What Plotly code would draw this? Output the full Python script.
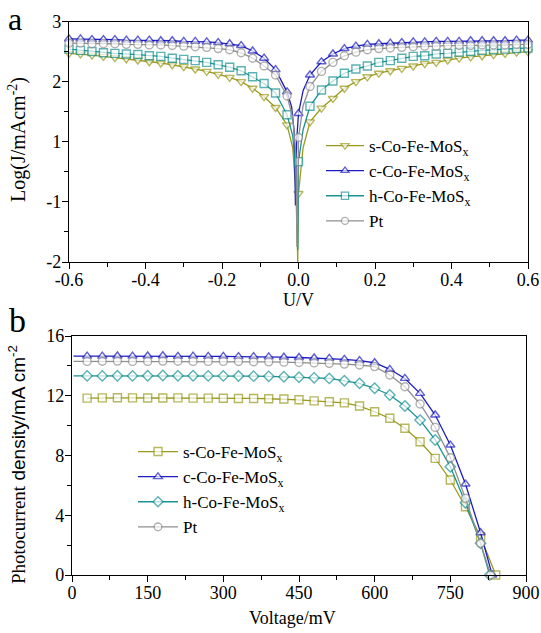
import plotly.graph_objects as go

# ---------------- Panel a data (Tafel-type curves) ----------------
u_volts = [-0.6, -0.57, -0.54, -0.51, -0.48, -0.45, -0.42, -0.39, -0.36, -0.33,
           -0.3, -0.27, -0.24, -0.21, -0.18, -0.15, -0.12, -0.09, -0.06, -0.03,
           0.0,
           0.03, 0.06, 0.09, 0.12, 0.15, 0.18, 0.21, 0.24, 0.27, 0.3,
           0.33, 0.36, 0.39, 0.42, 0.45, 0.48, 0.51, 0.54, 0.57, 0.6]

# values are in the (evenly spaced) axis position units; tick labels below
a_s = [2.47, 2.46, 2.44, 2.42, 2.40, 2.38, 2.36, 2.33, 2.31, 2.28,
       2.25, 2.21, 2.17, 2.12, 2.07, 2.00, 1.89, 1.75, 1.57, 1.28,
       0.14,
       1.33, 1.56, 1.72, 1.89, 2.00, 2.08, 2.14, 2.18, 2.22, 2.26,
       2.30, 2.32, 2.36, 2.39, 2.41, 2.43, 2.45, 2.47, 2.49, 2.50]
a_c = [2.71, 2.71, 2.70, 2.70, 2.70, 2.69, 2.69, 2.69, 2.68, 2.68,
       2.67, 2.67, 2.66, 2.65, 2.63, 2.60, 2.51, 2.39, 2.20, 1.83,
       1.47,
       2.11, 2.33, 2.46, 2.55, 2.59, 2.62, 2.63, 2.64, 2.65, 2.66,
       2.66, 2.67, 2.67, 2.67, 2.68, 2.68, 2.68, 2.68, 2.69, 2.69]
a_h = [2.54, 2.52, 2.50, 2.48, 2.47, 2.46, 2.45, 2.43, 2.42, 2.39,
       2.37, 2.35, 2.32, 2.28, 2.24, 2.18, 2.08, 1.97, 1.81, 1.45,
       0.67,
       1.59, 1.86, 2.01, 2.14, 2.21, 2.26, 2.32, 2.35, 2.39, 2.42,
       2.43, 2.46, 2.47, 2.49, 2.50, 2.52, 2.53, 2.54, 2.55, 2.56]
a_pt = [2.64, 2.64, 2.63, 2.63, 2.63, 2.62, 2.62, 2.61, 2.61, 2.60,
        2.59, 2.58, 2.57, 2.55, 2.53, 2.48, 2.39, 2.26, 2.11, 1.76,
        1.07,
        1.92, 2.17, 2.32, 2.43, 2.49, 2.53, 2.55, 2.56, 2.57, 2.58,
        2.59, 2.59, 2.60, 2.60, 2.60, 2.61, 2.61, 2.61, 2.62, 2.62]

# extra (unmarked) points describing the sharp dip near 0 V
dip_x_s = [-0.015, -0.006, -0.002, 0.012]
dip_y_s = [0.90, 0.10, -1.00, 0.90]
dip_x_c = [-0.018, -0.011, -0.008, -0.005, 0.012]
dip_y_c = [1.58, 1.15, -0.06, 1.00, 1.85]
dip_x_h = [-0.015, -0.006, -0.002, 0.012]
dip_y_h = [1.10, 0.40, -0.80, 1.20]
dip_x_pt = [-0.015, -0.007, -0.004, -0.002, 0.012]
dip_y_pt = [1.40, 0.80, -0.75, 0.50, 1.60]

a_xticks = [-0.6, -0.4, -0.2, 0.0, 0.2, 0.4, 0.6]
a_xticktext = ["-0.6", "-0.4", "-0.2", "0.0", "0.2", "0.4", "0.6"]
a_yticks = [3, 2, 1, 0, -1]
a_yticktext = ["3", "2", "1", "-1", "-2"]

# ---------------- Panel b data (J-V curves) ----------------
v_mV = [30, 60, 90, 120, 150, 180, 210, 240, 270, 300,
        330, 360, 390, 420, 450, 480, 510, 540, 570, 600,
        630, 660, 690, 720, 750, 780, 810]
b_s = [11.84, 11.86, 11.87, 11.86, 11.85, 11.85, 11.86, 11.84, 11.84, 11.83,
       11.82, 11.82, 11.80, 11.78, 11.73, 11.66, 11.60, 11.52, 11.31, 10.93,
       10.49, 9.82, 8.92, 7.81, 6.36, 4.57, 2.56]
b_c = [14.65, 14.65, 14.66, 14.65, 14.66, 14.68, 14.64, 14.65, 14.64, 14.64,
       14.62, 14.62, 14.60, 14.58, 14.56, 14.53, 14.50, 14.44, 14.35, 14.21,
       13.77, 13.16, 12.16, 10.71, 8.70, 6.09, 2.83]
b_h = [13.33, 13.33, 13.34, 13.33, 13.34, 13.36, 13.34, 13.34, 13.33, 13.33,
       13.32, 13.31, 13.30, 13.27, 13.24, 13.20, 13.16, 13.00, 12.83, 12.50,
       12.05, 11.31, 10.37, 9.04, 7.25, 4.84, 2.12]
b_pt = [14.30, 14.31, 14.32, 14.30, 14.30, 14.32, 14.31, 14.30, 14.30, 14.30,
        14.29, 14.28, 14.27, 14.25, 14.23, 14.20, 14.17, 14.12, 14.06, 13.95,
        13.39, 12.60, 11.45, 9.88, 7.85, 5.13, 2.12]
# unmarked start of the recorded curves (mV, mA cm-2); None = starts at first marker
start_c, start_h, start_pt = (3, 14.65), (3, 13.33), (3, 14.30)
voc_s, voc_c, voc_h, voc_pt = 840, 833, 828, 830

names = ["s-Co-Fe-MoS<sub>x</sub>", "c-Co-Fe-MoS<sub>x</sub>",
         "h-Co-Fe-MoS<sub>x</sub>", "Pt"]
colors = ["#9a9a1e", "#1c1cc0", "#1a9292", "#8f8f8f"]

SERIF = "Liberation Serif"
MS = 8

fig = go.Figure()


def merged(xm, ym, xd, yd):
    pts = [(x, y, MS) for x, y in zip(xm, ym)] + [(x, y, 0) for x, y in zip(xd, yd)]
    pts.sort(key=lambda p: p[0])
    return [p[0] for p in pts], [p[1] for p in pts], [p[2] for p in pts]


a_sets = [(a_s, dip_x_s, dip_y_s, "triangle-down"),
          (a_c, dip_x_c, dip_y_c, "triangle-up"),
          (a_h, dip_x_h, dip_y_h, "square"),
          (a_pt, dip_x_pt, dip_y_pt, "circle")]
for i, (ys, dx, dy, sym) in enumerate(a_sets):
    xx, yy, ss = merged(u_volts, ys, dx, dy)
    fig.add_trace(go.Scatter(
        x=xx, y=yy, mode="lines+markers", name=names[i],
        line=dict(color=colors[i], width=1.3),
        marker=dict(symbol=sym, size=ss, color="white",
                    line=dict(color=colors[i], width=[1.4 if s else 0 for s in ss])),
        xaxis="x", yaxis="y", legend="legend", cliponaxis=False,
    ))

b_sets = [(b_s, None, voc_s, "square"), (b_c, start_c, voc_c, "triangle-up"),
          (b_h, start_h, voc_h, "diamond"), (b_pt, start_pt, voc_pt, "circle")]
for i, (ys, st, voc, sym) in enumerate(b_sets):
    dx = [st[0]] if st else []
    dy = [st[1]] if st else []
    xx, yy, ss = merged(v_mV + [voc], ys + [0.0], dx, dy)
    fig.add_trace(go.Scatter(
        x=xx, y=yy, mode="lines+markers", name=names[i],
        line=dict(color=colors[i], width=1.3),
        marker=dict(symbol=sym, size=ss, color="white",
                    line=dict(color=colors[i], width=[1.4 if s else 0 for s in ss])),
        xaxis="x2", yaxis="y2", legend="legend2", cliponaxis=False,
    ))

W, H = 541, 633


def px_x(p):
    return p / W


def px_y(p):
    return 1 - p / H


axis_common = dict(showline=True, linecolor="black", linewidth=1.3, mirror=True,
                   ticks="outside", ticklen=6, tickwidth=1.2, tickcolor="black",
                   showgrid=False, zeroline=False, automargin=False,
                   tickfont=dict(family=SERIF, size=18, color="black"))

fig.update_layout(
    template="none",
    font=dict(family=SERIF, size=18, color="black"),
    width=W, height=H,
    margin=dict(l=0, r=0, t=0, b=0, autoexpand=False),
    paper_bgcolor="white", plot_bgcolor="white",
    xaxis=dict(domain=[px_x(69), px_x(528)], range=[-0.6, 0.6],
               tickvals=a_xticks, ticktext=a_xticktext, anchor="y",
               ticklabelstandoff=-5,
               minor=dict(dtick=0.1, tick0=0, ticklen=3.5, tickcolor="black", ticks="outside"),
               **axis_common),
    yaxis=dict(domain=[px_y(262), px_y(21.5)], range=[-1, 3],
               tickvals=a_yticks, ticktext=a_yticktext, anchor="x",
               ticklabelstandoff=-3,
               minor=dict(dtick=0.5, tick0=0, ticklen=3.5, tickcolor="black", ticks="outside"),
               **axis_common),
    xaxis2=dict(domain=[px_x(72), px_x(526)], range=[0, 900], dtick=150, tick0=0,
                anchor="y2", ticklabelstandoff=-5,
                minor=dict(dtick=75, tick0=0, ticklen=3.5, tickcolor="black", ticks="outside"),
                **axis_common),
    yaxis2=dict(domain=[px_y(575), px_y(336)], range=[0, 16], dtick=4, tick0=0,
                anchor="x2", ticklabelstandoff=-3,
                minor=dict(dtick=2, tick0=0, ticklen=3.5, tickcolor="black", ticks="outside"),
                **axis_common),
    legend=dict(x=px_x(321), y=px_y(128), xanchor="left", yanchor="top",
                bgcolor="rgba(0,0,0,0)", borderwidth=0, itemwidth=38,
                font=dict(family=SERIF, size=17, color="black"), tracegroupgap=0),
    legend2=dict(x=px_x(133), y=px_y(434), xanchor="left", yanchor="top",
                 bgcolor="rgba(0,0,0,0)", borderwidth=0, itemwidth=40,
                 font=dict(family=SERIF, size=17, color="black"), tracegroupgap=0),
    showlegend=True,
)

ann = [
    dict(text="a", x=px_x(15), y=px_y(19), font=dict(family=SERIF, size=32, color="black")),
    dict(text="b", x=px_x(17), y=px_y(320), font=dict(family=SERIF, size=34, color="black")),
    dict(text="U/V", x=px_x(298), y=px_y(300), font=dict(family=SERIF, size=18, color="black")),
    dict(text="Voltage/mV", x=px_x(292), y=px_y(618), font=dict(family=SERIF, size=18, color="black")),
    dict(text="Log(J/mAcm<sup>-2</sup>)", x=px_x(17), y=px_y(140), textangle=-90,
         font=dict(family=SERIF, size=20, color="black")),
    dict(text="Photocurrent<span style=\"font-family:'Liberation Sans'\"> density/mA cm<sup>-2</sup></span>",
         x=px_x(17), y=px_y(465), textangle=-90,
         font=dict(family=SERIF, size=19, color="black")),
]
for a in ann:
    a.update(xref="paper", yref="paper", showarrow=False, xanchor="center", yanchor="middle")
fig.update_layout(annotations=ann)

fig.write_html("out.html", config={"displayModeBar": False},
               post_script="document.body.style.margin='0px';")
